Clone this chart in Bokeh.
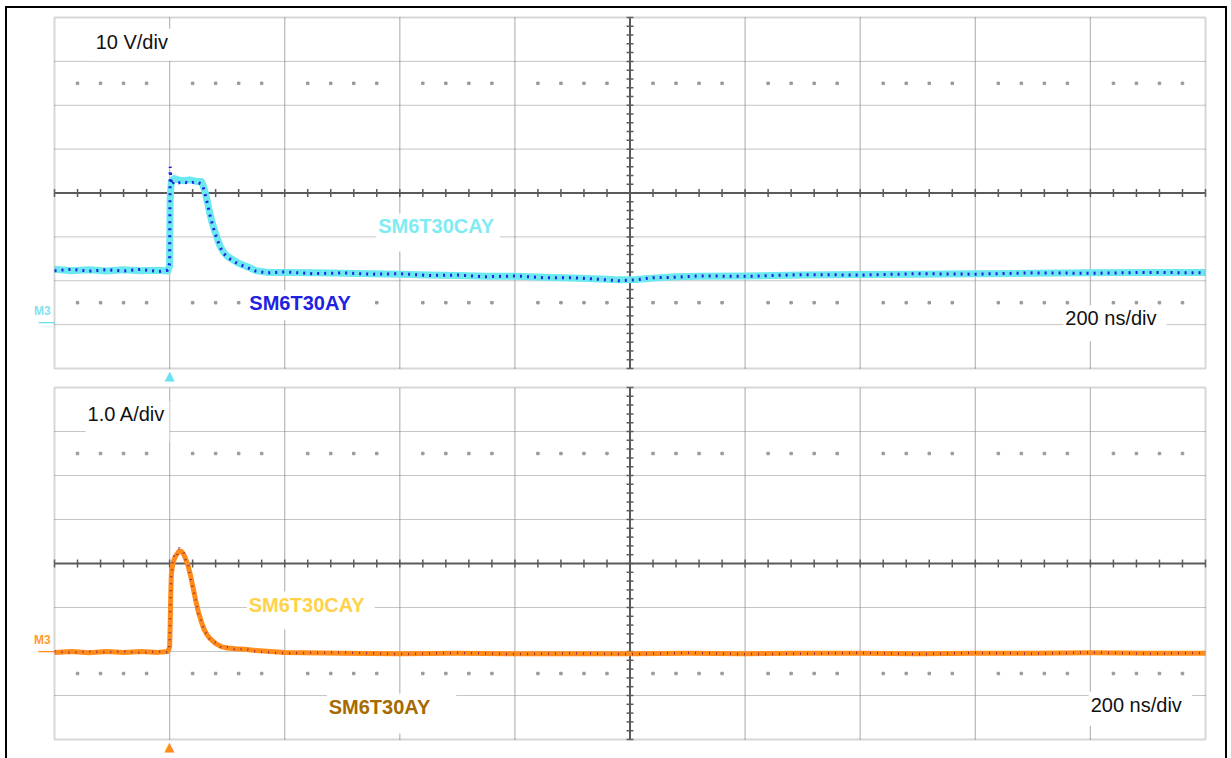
import numpy as np
from bokeh.plotting import figure
from bokeh.models import Range1d, Label, BoxAnnotation, Column
from bokeh.embed import file_html
from bokeh.resources import INLINE

# ---------------- data (time in ns relative to trigger) ----------------
t_v = [-200, -170, -140, -110, -80, -50, -20, -3, 0, 1, 3, 8, 15, 25, 35, 45, 55, 58,
       62, 66, 70, 74, 78, 83, 88, 94, 100, 110, 120, 135, 150, 170, 200, 250, 300,
       350, 400, 450, 500, 550, 600, 650, 700, 750, 780, 810, 840, 880, 920, 1000,
       1100, 1200, 1300, 1400, 1500, 1600, 1700, 1800]
v_cay = [12.6, 12.3, 12.5, 12.2, 12.5, 12.3, 12.4, 12.2, 13.5, 29.0, 32.5, 33.3, 33.0,
         32.8, 33.0, 32.7, 32.6, 31.8, 30.0, 27.8, 25.3, 23.2, 21.5, 19.6, 17.8, 16.5,
         15.6, 14.8, 14.0, 13.2, 12.3, 11.9, 11.9, 11.8, 11.7, 11.6, 11.5, 11.3, 11.2,
         11.0, 11.0, 10.8, 10.6, 10.4, 10.2, 10.3, 10.6, 10.9, 11.0, 11.1, 11.3, 11.4,
         11.5, 11.6, 11.7, 11.8, 11.9, 11.9]
v_ay = [12.3, 12.6, 12.2, 12.5, 12.2, 12.6, 12.1, 12.4, 14.0, 36.0, 31.8, 32.6, 32.3,
        32.5, 32.2, 32.6, 32.1, 31.5, 29.6, 27.4, 25.0, 23.0, 21.2, 19.3, 17.6, 16.2,
        15.4, 14.5, 13.8, 13.0, 12.2, 11.8, 12.0, 11.6, 11.8, 11.5, 11.6, 11.2, 11.3,
        10.9, 11.1, 10.7, 10.7, 10.3, 10.0, 10.2, 10.7, 10.8, 11.1, 11.0, 11.4, 11.3,
        11.6, 11.5, 11.8, 11.7, 11.9, 11.8]

t_i = [-200, -170, -140, -110, -80, -50, -20, -3, 0, 1, 2, 3, 5, 8, 12, 16, 20, 24, 28,
       32, 36, 40, 45, 50, 55, 60, 65, 70, 80, 90, 100, 115, 130, 150, 200, 300, 400,
       500, 600, 700, 800, 900, 1000, 1100, 1200, 1300, 1400, 1500, 1600, 1700, 1800]
i_cay = [-0.02, 0.0, -0.03, 0.0, -0.02, 0.0, -0.02, 0.0, 0.1, 0.6, 1.3, 1.75, 1.95,
         2.1, 2.2, 2.27, 2.28, 2.22, 2.1, 1.95, 1.75, 1.5, 1.18, 0.9, 0.68, 0.5, 0.38,
         0.3, 0.18, 0.11, 0.08, 0.06, 0.05, 0.02, -0.02, -0.04, -0.05, -0.04, -0.05,
         -0.05, -0.05, -0.04, -0.05, -0.04, -0.04, -0.05, -0.04, -0.04, -0.03, -0.04,
         -0.04]
i_ay = [0.0, -0.03, 0.0, -0.02, 0.0, -0.03, 0.0, -0.02, 0.15, 0.8, 1.4, 1.7, 2.0, 2.2,
        2.15, 2.35, 2.3, 2.28, 2.05, 2.0, 1.7, 1.45, 1.2, 0.85, 0.7, 0.46, 0.4, 0.27,
        0.2, 0.09, 0.1, 0.04, 0.06, 0.0, -0.04, -0.02, -0.06, -0.03, -0.06, -0.04,
        -0.06, -0.03, -0.06, -0.05, -0.03, -0.06, -0.03, -0.05, -0.02, -0.05, -0.03]

time_div = list(range(-200, 1801, 200))     # 200 ns/div
v_div = list(range(-10, 71, 10))            # 10 V/div
i_div = [-2, -1, 0, 1, 2, 3, 4, 5, 6]       # 1.0 A/div

FONT = "Liberation Sans"
GRID_C = "#8a8a8a"
AXIS_C = "#5a5a5a"

# page geometry (pixels)
FIG_X0, FIG_X1 = 7, 1225          # canvas horizontal extent
PAN_X0, PAN_X1 = 54, 1205         # graticule horizontal extent
SPLIT = 384                       # boundary between the two canvases


def panel(ydiv, fig_y0, fig_y1, pan_y0, pan_y1):
    y0, y1 = ydiv[0], ydiv[-1]
    step = ydiv[1] - ydiv[0]
    yc = (y0 + y1) / 2
    t0, t1 = time_div[0], time_div[-1]
    tc = (t0 + t1) / 2
    kx = (t1 - t0) / (PAN_X1 - PAN_X0)
    ky = (y1 - y0) / (pan_y1 - pan_y0)
    xr = Range1d(t0 - (PAN_X0 - FIG_X0) * kx, t1 + (FIG_X1 - PAN_X1) * kx)
    yr = Range1d(y0 - (fig_y1 - pan_y1) * ky, y1 + (pan_y0 - fig_y0) * ky)
    p = figure(width=FIG_X1 - FIG_X0, height=fig_y1 - fig_y0, x_range=xr, y_range=yr,
               x_axis_location=None, y_axis_location=None, toolbar_location=None,
               output_backend="svg", min_border=0)
    p.grid.visible = False
    p.outline_line_color = None
    p.background_fill_color = "white"
    p.border_fill_color = "white"
    # dotted graticule
    vx = [t for t in time_div[1:-1] if t != tc]
    p.segment(vx, [y0] * len(vx), vx, [y1] * len(vx), line_color="#7a7a7a",
              line_dash="1 1", line_width=1.3)
    hy = [v for v in ydiv[1:-1] if v != yc]
    p.segment([t0] * len(hy), hy, [t1] * len(hy), hy, line_color=GRID_C,
              line_dash="1 1", line_width=1)
    # centre axes
    p.segment([t0], [yc], [t1], [yc], line_color=AXIS_C, line_width=2)
    p.segment([tc], [y0], [tc], [y1], line_color=AXIS_C, line_width=2)
    tx = np.arange(t0, t1 + 1, 40)
    p.segment(tx, yc - 0.09 * step, tx, yc + 0.09 * step, line_color=AXIS_C, line_width=1.5)
    ty = np.arange(y0, y1 + 1e-9, step / 5)
    p.segment(tc - 6, ty, tc + 6, ty, line_color=AXIS_C, line_width=1.5)
    # dotted rows
    dx = [t for t in tx if t % 200 != 0]
    for yy in (yc + 2.5 * step, yc - 2.5 * step):
        p.scatter(dx, [yy] * len(dx), size=2.5, marker="square", color="#9a9a9a")
    p.add_layout(BoxAnnotation(left=t0, right=t1, bottom=y0, top=y1, fill_color=None,
                               line_color="#7a7a7a", line_width=2))
    return p


# ---------------- top panel: voltage ----------------
p1 = panel(v_div, 8, SPLIT, 17, 368)
p1.line(t_v, v_cay, line_color="#6BE8F0", line_width=7, line_join="round")
p1.line(t_v, v_ay, line_color="#1F22E0", line_width=3, line_dash="2 5")

p1.add_layout(Label(x=-132, y=63.8, text="10 V/div", text_font=FONT, text_font_size="20px",
                    text_color="#111111", text_baseline="middle", background_fill_color="white",
                    padding=(2, 3, 2, 8)))
p1.add_layout(Label(x=359, y=21.0, text="SM6T30CAY", text_font=FONT, text_font_size="20px",
                    text_font_style="bold", text_color="#7FEBF3", text_baseline="middle",
                    background_fill_color="white", padding=(2, 6, 2, 14)))
p1.add_layout(Label(x=135, y=4.4, text="SM6T30AY", text_font=FONT, text_font_size="20px",
                    text_font_style="bold", text_color="#1F22E0", text_baseline="middle",
                    background_fill_color="white", padding=(2, 6, 2, 6)))
p1.add_layout(Label(x=1553, y=0.3, text="200 ns/div", text_font=FONT, text_font_size="20px",
                    text_color="#111111", text_baseline="middle", background_fill_color="white",
                    padding=(2, 10, 2, 12)))
p1.add_layout(Label(x=-221, y=3.0, text="M3", text_font=FONT, text_font_size="12px",
                    text_font_style="bold", text_color="#7FE3EE", text_align="center",
                    text_baseline="middle"))
p1.add_layout(Label(x=-214, y=0.6, text="\u2014", text_font=FONT, text_font_size="16px",
                    text_color="#66E3EE", text_align="center", text_baseline="middle"))
p1.add_layout(Label(x=0, y=-11.6, text="\u25B2", text_font="DejaVu Sans", text_font_size="13px",
                    text_color="#66E3EE", text_align="center", text_baseline="middle"))

# ---------------- bottom panel: current ----------------
p2 = panel(i_div, SPLIT, 758, 387, 739)
p2.line(t_i, i_cay, line_color="#FF8C1A", line_width=5, line_join="round")
p2.line(t_i, i_ay, line_color="#7A1F55", line_width=2.5, line_dash="1 6", line_alpha=0.85)

p2.add_layout(Label(x=-146, y=5.23, text="1.0 A/div", text_font=FONT, text_font_size="20px",
                    text_color="#111111", text_baseline="middle", background_fill_color="white",
                    padding=(2, 4, 2, 17)))
p2.add_layout(Label(x=134, y=0.93, text="SM6T30CAY", text_font=FONT, text_font_size="20px",
                    text_font_style="bold", text_color="#FFD24A", text_baseline="middle",
                    background_fill_color="white", padding=(2, 10, 2, 14)))
p2.add_layout(Label(x=273, y=-1.41, text="SM6T30AY", text_font=FONT, text_font_size="20px",
                    text_font_style="bold", text_color="#A66A00", text_baseline="middle",
                    background_fill_color="white", padding=(2, 26, 2, 16)))
p2.add_layout(Label(x=1597, y=-1.30, text="200 ns/div", text_font=FONT, text_font_size="20px",
                    text_color="#111111", text_baseline="middle", background_fill_color="white",
                    padding=(2, 10, 2, 10)))
p2.add_layout(Label(x=-221, y=0.27, text="M3", text_font=FONT, text_font_size="12px",
                    text_font_style="bold", text_color="#FF9A2E", text_align="center",
                    text_baseline="middle"))
p2.add_layout(Label(x=-214, y=0.03, text="\u2014", text_font=FONT, text_font_size="16px",
                    text_color="#FF8C1A", text_align="center", text_baseline="middle"))
p2.add_layout(Label(x=0, y=-2.16, text="\u25B2", text_font="DejaVu Sans", text_font_size="13px",
                    text_color="#FF8C1A", text_align="center", text_baseline="middle"))

layout = Column(children=[p1, p2], spacing=0,
                styles={"margin-left": "5px", "margin-top": "6px",
                        "border-top": "2px solid black", "border-left": "2px solid black",
                        "border-right": "2px solid black"})

open("out.html", "w").write(file_html(layout, INLINE))
